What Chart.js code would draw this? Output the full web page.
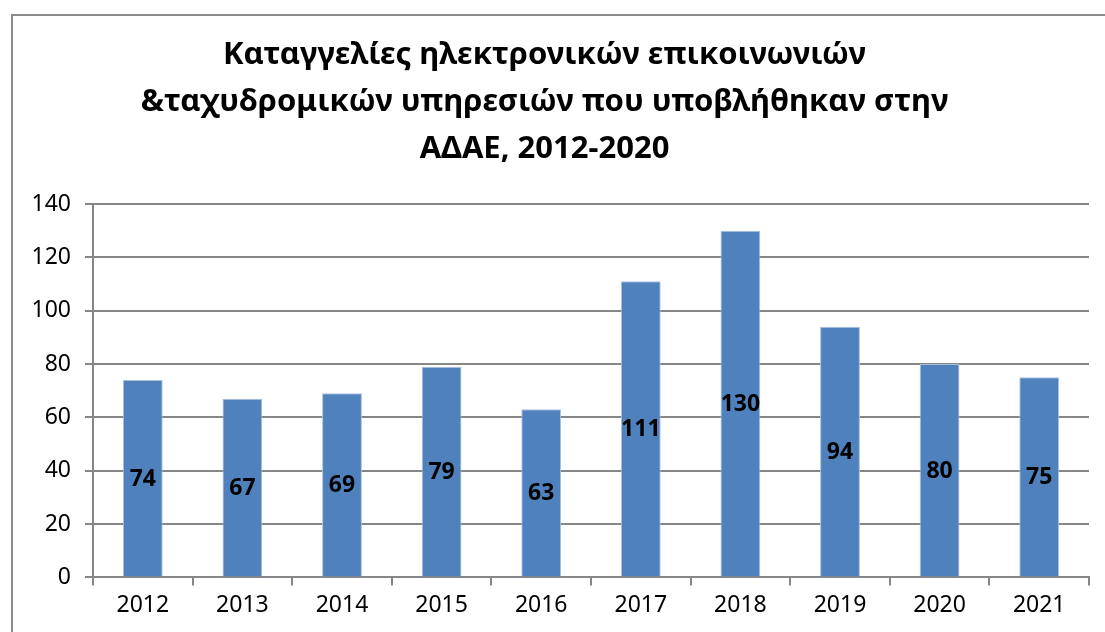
<!DOCTYPE html>
<html>
<head>
<meta charset="utf-8">
<script src="https://cdn.jsdelivr.net/npm/chart.js@4"></script>
<style>
  html, body { margin: 0; padding: 0; background: #fff; overflow: hidden; }
  #wrap { position: relative; width: 1105px; height: 632px; }
  #frame { position: absolute; left: 11px; top: 14px; width: 1200px; height: 700px; border: 2px solid #8c8c8c; box-sizing: border-box; }
  canvas { position: absolute; left: 0; top: 0; }
</style>
</head>
<body>
<div id="wrap">
  <div id="frame"></div>
  <canvas id="myChart1" width="1105" height="632"></canvas>
</div>
<script>
const years = ['2012', '2013', '2014', '2015', '2016', '2017', '2018', '2019', '2020', '2021'];
const complaints = [74, 67, 69, 79, 63, 111, 130, 94, 80, 75];
const titleLines = [
  'Καταγγελίες ηλεκτρονικών επικοινωνιών',
  '&ταχυδρομικών υπηρεσιών που υποβλήθηκαν στην',
  'ΑΔΑΕ, 2012-2020'
];

const FONT = "'Noto Sans', 'DejaVu Sans', sans-serif";

// draws the value in the middle of every bar
const barLabels = {
  id: 'barLabels',
  afterDatasetsDraw(chart) {
    const c = chart.ctx;
    const meta = chart.getDatasetMeta(0);
    c.save();
    c.font = 'bold 23px ' + FONT;
    c.fillStyle = '#000';
    c.textAlign = 'center';
    c.textBaseline = 'middle';
    meta.data.forEach((bar, i) => {
      const mid = (bar.y + bar.base) / 2;
      c.fillText(String(chart.data.datasets[0].data[i]), bar.x, mid + 1);
    });
    c.restore();
  }
};

window.addEventListener('load', setup);

function setup() {
  const ctx = document.getElementById('myChart1').getContext('2d');
  new Chart(ctx, {
    type: 'bar',
    data: {
      labels: years,
      datasets: [{
        label: 'Καταγγελίες',
        data: complaints,
        backgroundColor: '#4f81bd',
        borderColor: '#a9c1df',
        borderWidth: 1,
        categoryPercentage: 1,
        barPercentage: 0.4
      }]
    },
    options: {
      responsive: false,
      animation: false,
      layout: { padding: { left: 0, right: 16, top: 0, bottom: 7 } },
      plugins: {
        legend: { display: false },
        tooltip: { enabled: false },
        title: {
          display: true,
          text: titleLines,
          color: '#000',
          font: { family: FONT, size: 31, weight: 'bold', lineHeight: 47 / 31 },
          padding: { top: 32, bottom: 31 }
        }
      },
      scales: {
        x: {
          offset: true,
          grid: { offset: true, drawOnChartArea: false, color: '#868686', lineWidth: 2, tickLength: 8 },
          border: { color: '#868686', width: 2 },
          ticks: { color: '#000', font: { family: FONT, size: 23 }, padding: 6 }
        },
        y: {
          min: 0,
          max: 140,
          afterFit(scale) { scale.width = 93; },
          ticks: { stepSize: 20, color: '#000', font: { family: FONT, size: 23 }, padding: 14 },
          grid: { color: '#868686', lineWidth: 2, tickLength: 8 },
          border: { color: '#868686', width: 2 }
        }
      }
    },
    plugins: [barLabels]
  });
}
</script>
</body>
</html>
